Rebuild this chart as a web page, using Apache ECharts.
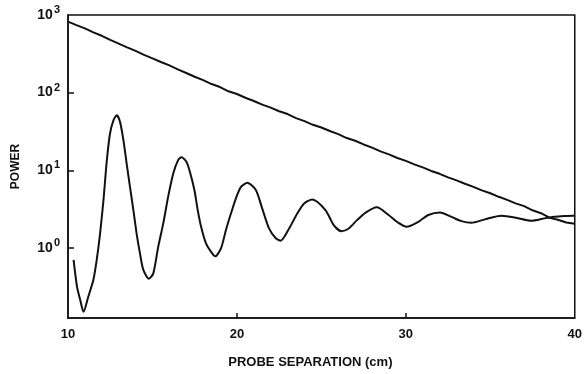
<!DOCTYPE html>
<html>
<head>
<meta charset="utf-8">
<script src="https://cdn.jsdelivr.net/npm/echarts@6.0.0/dist/echarts.min.js"></script>
<style>
  html, body { margin: 0; padding: 0; background: #fff; }
  #chart { width: 585px; height: 374px; }
</style>
</head>
<body>
<div id="chart"></div>
<script>
// probe separation (cm) and power for the straight decay line
let trendSep = [10, 10.5, 11, 11.5, 12, 12.5, 13, 13.5, 14, 14.5, 15, 15.5, 16, 16.5, 17, 17.5, 18, 18.5, 19, 19.5,
  20, 20.5, 21, 21.5, 22, 22.5, 23, 23.5, 24, 24.5, 25, 25.5, 26, 26.5, 27, 27.5, 28, 28.5, 29, 29.5,
  30, 30.5, 31, 31.5, 32, 32.5, 33, 33.5, 34, 34.5, 35, 35.5, 36, 36.5, 37, 37.5, 38, 38.5, 39, 39.5, 40];
let trendPower = [820, 740, 672, 598, 540, 478, 428, 383, 345, 306, 276, 248, 224, 199, 179, 160, 145, 129, 118, 104,
  96, 86, 78, 70, 64, 57.5, 53, 47, 43, 38.5, 35.5, 32, 29.2, 26, 24, 21.5, 19.6, 17.5, 16, 14.4,
  13.2, 11.9, 10.9, 9.8, 9.0, 8.1, 7.4, 6.7, 6.1, 5.5, 5.05, 4.55, 4.15, 3.75, 3.45, 3.05, 2.8, 2.45, 2.3, 2.12, 2.05];

// the oscillating curve
let oscSep = [10.33, 10.53, 10.73, 10.92, 11.2, 11.5, 11.7, 11.9, 12.1, 12.3, 12.49, 12.69, 12.89, 13.08, 13.28, 13.47,
  13.67, 13.87, 14.06, 14.26, 14.46, 14.79, 15.05, 15.34, 15.64, 15.93, 16.23, 16.52, 16.72, 17.01, 17.19, 17.48,
  17.68, 17.88, 18.17, 18.47, 18.72, 19.06, 19.35, 19.65, 19.94, 20.24, 20.62, 21.12, 21.5, 21.9, 22.3, 22.59,
  23.09, 23.58, 23.98, 24.46, 25.24, 25.73, 26.19, 26.62, 27.11, 27.6, 28.28, 28.98, 29.47, 30.05, 30.74, 31.33,
  32.02, 32.7, 33.29, 33.88, 34.67, 35.65, 36.44, 37.42, 38.21, 38.8, 39.39, 39.88, 40];
let oscPower = [0.70, 0.32, 0.21, 0.15, 0.235, 0.385, 0.70, 1.54, 4.13, 13.5, 30, 44, 51, 42, 24.5, 12.3,
  6.1, 3.07, 1.54, 0.85, 0.52, 0.40, 0.47, 1.03, 2.07, 4.57, 9.1, 13.5, 14.7, 12.9, 10, 5.6,
  3.07, 1.87, 1.14, 0.89, 0.78, 0.99, 1.7, 2.79, 4.35, 6.1, 6.9, 5.56, 3.2, 1.78, 1.33, 1.24,
  1.78, 2.79, 3.74, 4.2, 3.07, 1.97, 1.64, 1.78, 2.28, 2.83, 3.33, 2.65, 2.17, 1.87, 2.17, 2.65,
  2.85, 2.51, 2.21, 2.11, 2.33, 2.59, 2.47, 2.24, 2.4, 2.51, 2.57, 2.6, 2.6];

// axis ticks
let xTicks = [10, 20, 30, 40];
let yLabels = [1, 10, 100, 1000];
let yTicks = [1, 10, 100];

let ink = '#111';
let font = 'Liberation Sans';

let zip = (xs, ys) => xs.map((x, i) => [x, ys[i]]);

let myChart = echarts.init(document.getElementById('chart'));
let option;

option = {
  backgroundColor: '#fff',
  animation: false,
  grid: {
    left: 68,
    right: 8,
    top: 15,
    bottom: 56,
    show: true,
    borderColor: ink,
    borderWidth: 1.5
  },
  xAxis: {
    type: 'value',
    min: 10,
    max: 40,
    interval: 10,
    name: 'PROBE SEPARATION (cm)',
    nameLocation: 'middle',
    nameGap: 38,
    nameTextStyle: { color: ink, fontFamily: font, fontSize: 13, fontWeight: 'bold', padding: [0, 22, 0, 0] },
    axisLine: { lineStyle: { color: ink, width: 1.5 } },
    axisTick: { inside: true, length: 5, lineStyle: { color: ink, width: 1.5 }, customValues: [20, 30] },
    axisLabel: { color: ink, fontFamily: font, fontSize: 13, fontWeight: 'bold', margin: 10, customValues: xTicks },
    splitLine: { show: false }
  },
  yAxis: {
    type: 'log',
    min: 0.125,
    max: 1000,
    logBase: 10,
    name: 'POWER',
    nameLocation: 'middle',
    nameGap: 46,
    nameRotate: 90,
    nameTextStyle: { color: ink, fontFamily: font, fontSize: 12, fontWeight: 'bold' },
    axisLine: { lineStyle: { color: ink, width: 1.5 } },
    axisTick: { inside: true, length: 6, lineStyle: { color: ink, width: 1.5 }, customValues: yTicks },
    axisLabel: {
      margin: 8,
      customValues: yLabels,
      formatter: (v) => {
        let e = Math.log10(v);
        if (Math.abs(e - Math.round(e)) > 0.01) return '';
        return '{b|10}{s|' + Math.round(e) + '}';
      },
      rich: {
        b: { color: ink, fontFamily: font, fontSize: 14, fontWeight: 'bold' },
        s: { color: ink, fontFamily: font, fontSize: 11, fontWeight: 'bold', padding: [0, 0, 10, 1] }
      }
    },
    splitLine: { show: false }
  },
  series: [
    {
      name: 'decay',
      type: 'line',
      data: zip(trendSep, trendPower),
      showSymbol: false,
      lineStyle: { color: ink, width: 2 }
    },
    {
      name: 'oscillation',
      type: 'line',
      data: zip(oscSep, oscPower),
      showSymbol: false,
      smooth: 0.25,
      lineStyle: { color: ink, width: 2 }
    }
  ]
};

option && myChart.setOption(option);
</script>
</body>
</html>
